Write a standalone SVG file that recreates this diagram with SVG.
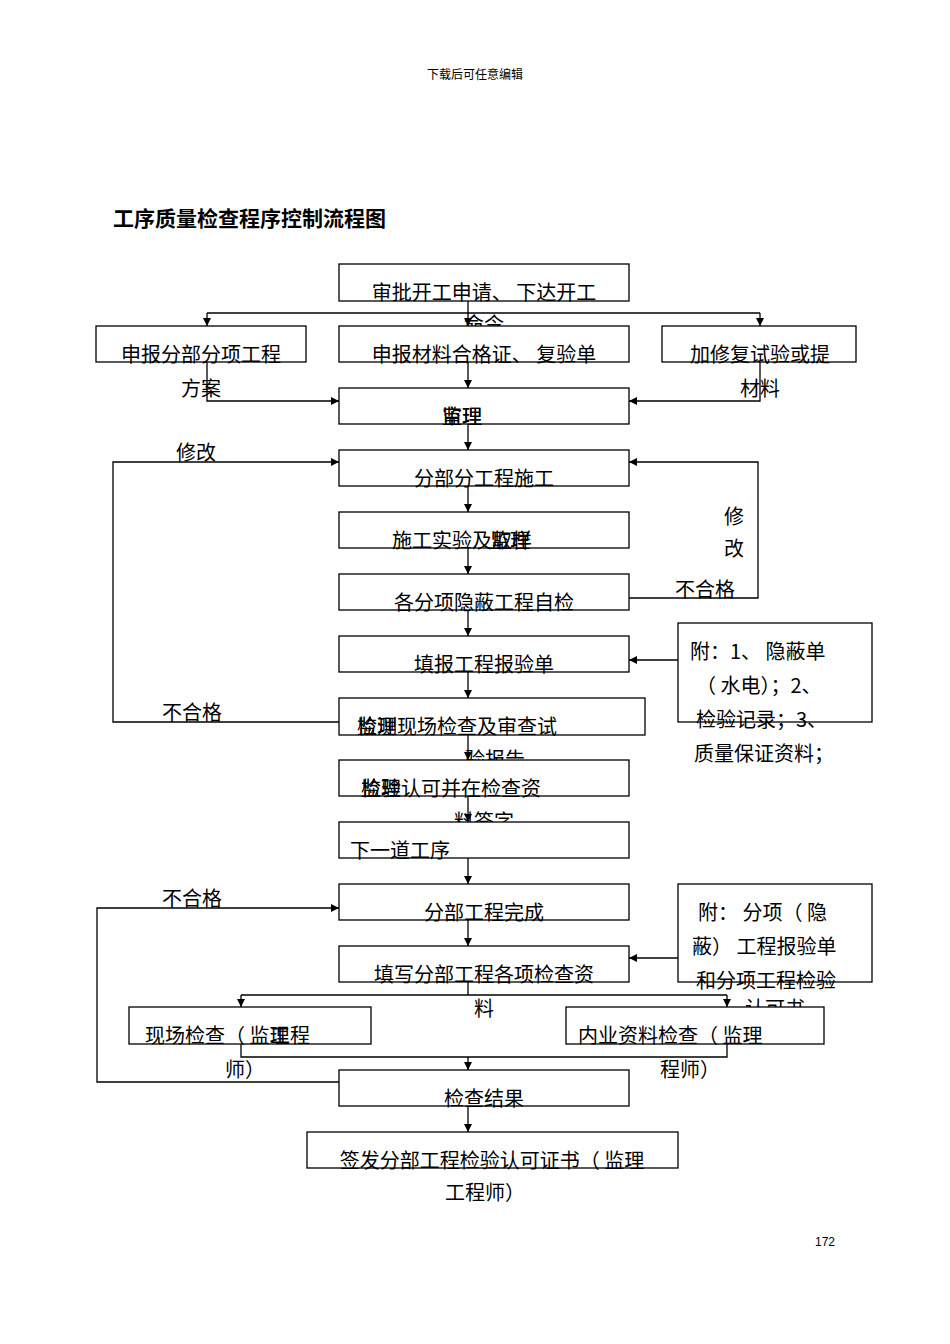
<svg xmlns="http://www.w3.org/2000/svg" width="950" height="1344" viewBox="0 0 950 1344">
<style>
.b{fill:#fff;stroke:#000;stroke-width:1.3}
.t{font-family:"Noto Sans CJK SC","Liberation Sans",sans-serif;font-size:20px;fill:#000}
.m{text-anchor:middle}
.l{fill:none;stroke:#000;stroke-width:1.3}
</style>
<defs><marker id="a" viewBox="0 0 10 10" refX="10" refY="5" markerWidth="8" markerHeight="8" orient="auto" markerUnits="userSpaceOnUse"><path d="M0,0L10,5L0,10z"/></marker></defs>
<rect width="950" height="1344" fill="#fff"/>
<text x="475" y="79" class="m" style="font-family:'Noto Sans CJK SC',serif;font-size:12px">下载后可任意编辑</text>
<text x="113" y="226" style="font-family:'Noto Sans CJK SC',sans-serif;font-size:21px;font-weight:bold">工序质量检查程序控制流程图</text>
<text x="825" y="1246" class="m" style="font-family:'Liberation Sans',sans-serif;font-size:12px">172</text>
<!-- overflow lines behind boxes -->
<g id="overflow">
<text x="484" y="332" class="t m">命令</text>
<text x="495" y="767" class="t m">验报告</text>
<text x="484" y="829" class="t m">料签字</text>
<text x="775" y="1016" class="t m">认可书</text>
</g>
<g id="connectors">
<path class="l" d="M468,301V313"/>
<path class="l" d="M207,313H760"/>
<path class="l" d="M207,313V326" marker-end="url(#a)"/>
<path class="l" d="M468,313V326" marker-end="url(#a)"/>
<path class="l" d="M760,313V326" marker-end="url(#a)"/>
<path class="l" d="M468,362V388" marker-end="url(#a)"/>
<path class="l" d="M207,362V401H339" marker-end="url(#a)"/>
<path class="l" d="M760,362V401H629" marker-end="url(#a)"/>
<path class="l" d="M468,424V450" marker-end="url(#a)"/>
<path class="l" d="M468,486V512" marker-end="url(#a)"/>
<path class="l" d="M468,548V574" marker-end="url(#a)"/>
<path class="l" d="M468,610V636" marker-end="url(#a)"/>
<path class="l" d="M468,672V698" marker-end="url(#a)"/>
<path class="l" d="M468,735V760" marker-end="url(#a)"/>
<path class="l" d="M468,796V822" marker-end="url(#a)"/>
<path class="l" d="M468,858V884" marker-end="url(#a)"/>
<path class="l" d="M468,920V946" marker-end="url(#a)"/>
<path class="l" d="M339,722H113V462H339" marker-end="url(#a)"/>
<path class="l" d="M629,598H758V462H629" marker-end="url(#a)"/>
<path class="l" d="M678,660H629" marker-end="url(#a)"/>
<path class="l" d="M678,958H629" marker-end="url(#a)"/>
<path class="l" d="M468,982V995"/>
<path class="l" d="M241,995H727"/>
<path class="l" d="M241,995V1007" marker-end="url(#a)"/>
<path class="l" d="M727,995V1007" marker-end="url(#a)"/>
<path class="l" d="M241,1044V1057H727V1044"/>
<path class="l" d="M468,1057V1070" marker-end="url(#a)"/>
<path class="l" d="M339,1082H97V908H339" marker-end="url(#a)"/>
<path class="l" d="M468,1106V1132" marker-end="url(#a)"/>
</g>
<g id="n1"><rect class="b" x="339" y="264" width="290" height="37"/><text x="484" y="300" class="t m">审批开工申请、 下达开工</text></g>
<g id="n2"><rect class="b" x="96" y="326" width="210" height="36"/><text x="201" y="362" class="t m">申报分部分项工程</text></g>
<g id="n3"><rect class="b" x="339" y="326" width="290" height="36"/><text x="484" y="362" class="t m">申报材料合格证、 复验单</text></g>
<g id="n4"><rect class="b" x="662" y="326" width="194" height="36"/><text x="760" y="362" class="t m">加修复试验或提</text></g>
<text x="201" y="396" class="t m">方案</text>
<text x="760" y="396" class="t m">材料</text>
<g id="n5"><rect class="b" x="339" y="388" width="290" height="36"/><text x="462" y="424" class="t m">审理</text><text x="462" y="424" class="t m">监理</text></g>
<text x="196" y="460" class="t m">修改</text>
<g id="n6"><rect class="b" x="339" y="450" width="290" height="36"/><text x="484" y="486" class="t m">分部分工程施工</text></g>
<g id="n7"><rect class="b" x="339" y="512" width="290" height="36"/><text x="462" y="548" class="t m">施工实验及取样</text><text x="510" y="548" class="t m">监理</text></g>
<text x="734" y="524" class="t m">修</text>
<text x="734" y="556" class="t m">改</text>
<g id="n8"><rect class="b" x="339" y="574" width="290" height="36"/><text x="484" y="610" class="t m">各分项隐蔽工程自检</text></g>
<text x="705" y="597" class="t m">不合格</text>
<g id="n9"><rect class="b" x="339" y="636" width="290" height="36"/><text x="484" y="672" class="t m">填报工程报验单</text></g>
<g id="side1"><rect class="b" x="678" y="623" width="194" height="99"/>
<text x="690" y="659" class="t">附：1、 隐蔽单</text>
<text x="696" y="693" class="t">（ 水电）；2、</text>
<text x="696" y="727" class="t">检验记录；3、</text>
<text x="694" y="761" class="t">质量保证资料；</text></g>
<text x="192" y="720" class="t m">不合格</text>
<g id="n10"><rect class="b" x="339" y="698" width="306" height="37"/><text x="357" y="734" class="t">检测现场检查及审查试</text><text x="357" y="734" class="t">监理</text></g>
<g id="n11"><rect class="b" x="339" y="760" width="290" height="36"/><text x="361" y="796" class="t">检验认可并在检查资</text><text x="361" y="796" class="t">监理</text></g>
<g id="n12"><rect class="b" x="339" y="822" width="290" height="36"/><text x="350" y="858" class="t">下一道工序</text></g>
<text x="192" y="906" class="t m">不合格</text>
<g id="n13"><rect class="b" x="339" y="884" width="290" height="36"/><text x="484" y="920" class="t m">分部工程完成</text></g>
<g id="n14"><rect class="b" x="339" y="946" width="290" height="36"/><text x="484" y="982" class="t m">填写分部工程各项检查资</text></g>
<g id="side2"><rect class="b" x="678" y="884" width="194" height="98"/>
<text x="698" y="920" class="t">附： 分项（ 隐</text>
<text x="692" y="954" class="t">蔽） 工程报验单</text>
<text x="696" y="988" class="t">和分项工程检验</text></g>
<text x="484" y="1016" class="t m">料</text>
<g id="n15"><rect class="b" x="129" y="1007" width="242" height="37"/><text x="145" y="1043" class="t">现场检查（ 监理</text><text x="270" y="1043" class="t">工程</text></g>
<g id="n16"><rect class="b" x="566" y="1007" width="258" height="37"/><text x="578" y="1043" class="t">内业资料检查（ 监理</text></g>
<text x="245" y="1077" class="t m">师）</text>
<text x="690" y="1077" class="t m">程师）</text>
<g id="n17"><rect class="b" x="339" y="1070" width="290" height="36"/><text x="484" y="1106" class="t m">检查结果</text></g>
<g id="n18"><rect class="b" x="307" y="1132" width="371" height="36"/><text x="492" y="1168" class="t m">签发分部工程检验认可证书（ 监理</text></g>
<text x="485" y="1200" class="t m">工程师）</text>
</svg>
